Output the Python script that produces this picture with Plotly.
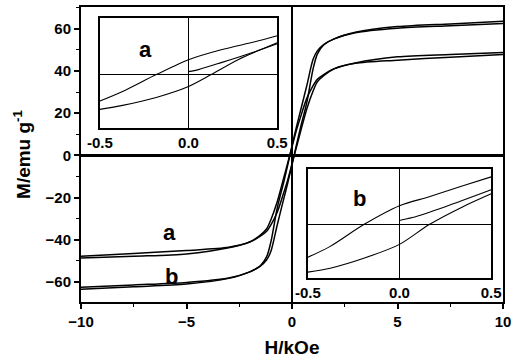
import plotly.graph_objects as go

# ---- main hysteresis data (H in kOe, M in emu/g) ----
H_main = [-10, -7.5, -5, -3, -2, -1.5, -1.2, -1, -0.7, -0.4, -0.2, 0,
          0.2, 0.4, 0.7, 1, 1.2, 1.5, 2, 3, 5, 7.5, 10]
# descending-field branches
M_a_dn = [-48.7, -47.8, -46.7, -43.8, -41, -37.8, -34.8, -30.5, -22, -11, -3.5, 4,
          11.5, 18, 27, 33, 36, 38.3, 41.1, 43.6, 45.1, 46.5, 47.8]
M_b_dn = [-63.5, -62.3, -61, -58.3, -55.2, -52.3, -48, -41, -25, -13, -4.5, 4.5,
          13, 21, 33, 45.5, 49.5, 52.5, 55.2, 58.1, 60.2, 61.4, 62.5]
# ascending-field branches (point symmetric to descending ones)
H_main_up = [-h for h in reversed(H_main)]
M_a_up = [-m for m in reversed(M_a_dn)]
M_b_up = [-m for m in reversed(M_b_dn)]

# ---- inset a (low-field loop) ----
Ha_upper = [-0.5, -0.372, -0.182, 0, 0.184, 0.374, 0.5]
Ma_upper = [-2.67, -1.7, 0, 1.5, 2.5, 3.3, 3.9]
Ha_lower = [-0.5, -0.372, -0.182, 0, 0.128, 0.279, 0.5]
Ma_lower = [-3.5, -3.1, -2.3, -1.2, 0, 1.5, 3.2]
Ha_virgin = [0, 0.056, 0.184, 0.374, 0.5]
Ma_virgin = [0.3, 0.5, 1.2, 2.3, 3.1]

# ---- inset b (low-field loop) ----
Hb_upper = [-0.5, -0.378, -0.195, 0, 0.162, 0.346, 0.5]
Mb_upper = [-3.3, -2.2, 0, 1.9, 2.8, 3.9, 4.8]
Hb_lower = [-0.5, -0.378, -0.195, 0, 0.162, 0.346, 0.5]
Mb_lower = [-4.8, -4.4, -3.4, -2.0, 0, 1.8, 3.1]
Hb_virgin = [0, 0.07, 0.25, 0.5]
Mb_virgin = [0.4, 0.7, 1.8, 3.5]

main_xticks = [-10, -5, 0, 5, 10]
main_yticks = [-60, -40, -20, 0, 20, 40, 60]
inset_xticks = [-0.5, 0, 0.5]
inset_xticktext = ["-0.5", "0.0", "0.5"]

FONT = "Liberation Sans"
line = dict(color="black", width=1.5, shape="spline", smoothing=0.8)
iline = dict(color="black", width=1.1, shape="spline", smoothing=0.8)

fig = go.Figure()

# main curves
for H, M in [(H_main, M_a_dn), (H_main_up, M_a_up), (H_main, M_b_dn), (H_main_up, M_b_up)]:
    fig.add_trace(go.Scatter(x=H, y=M, mode="lines", line=line, showlegend=False,
                             xaxis="x", yaxis="y"))

# inset a
for H, M in [(Ha_upper, Ma_upper), (Ha_lower, Ma_lower), (Ha_virgin, Ma_virgin)]:
    fig.add_trace(go.Scatter(x=H, y=M, mode="lines", line=iline,
                             showlegend=False, xaxis="x2", yaxis="y2"))
# inset b
for H, M in [(Hb_upper, Mb_upper), (Hb_lower, Mb_lower), (Hb_virgin, Mb_virgin)]:
    fig.add_trace(go.Scatter(x=H, y=M, mode="lines", line=iline,
                             showlegend=False, xaxis="x3", yaxis="y3"))

tickfont = dict(family=FONT, size=15, color="black", weight="bold")

fig.update_layout(
    width=518, height=364,
    margin=dict(l=81, r=11, t=5, b=62),
    paper_bgcolor="white", plot_bgcolor="white",
    xaxis=dict(range=[-10, 10], tickvals=main_xticks, ticks="outside", ticklen=5, tickwidth=1.5,
               tickcolor="black", showline=True, linecolor="black", linewidth=2, mirror=True,
               showgrid=False, zeroline=True, zerolinecolor="black", zerolinewidth=1.8,
               minor=dict(dtick=2.5, ticks="outside", ticklen=3, tickcolor="black", tickwidth=1.2),
               tickfont=tickfont,
               title=dict(text="H/kOe", font=dict(family=FONT, size=19, color="black", weight="bold"),
                          standoff=12)),
    yaxis=dict(range=[-69.5, 70.3], tickvals=main_yticks, ticks="outside", ticklen=5, tickwidth=1.5,
               tickcolor="black", showline=True, linecolor="black", linewidth=2, mirror=True,
               showgrid=False, zeroline=True, zerolinecolor="black", zerolinewidth=2.5,
               minor=dict(dtick=10, ticks="outside", ticklen=3, tickcolor="black", tickwidth=1.2),
               tickfont=tickfont,
               title=dict(text="M/emu g<sup>-1</sup>", font=dict(family=FONT, size=19, color="black", weight="bold"),
                          standoff=10)),
    xaxis2=dict(domain=[0.0446, 0.465], anchor="y2", range=[-0.5, 0.5], tickvals=inset_xticks,
                ticktext=inset_xticktext, ticks="", showline=True, linecolor="black", linewidth=1.5,
                mirror=True, showgrid=False, zeroline=True, zerolinecolor="black", zerolinewidth=1.3,
                tickfont=tickfont, ticklabelstandoff=0),
    yaxis2=dict(domain=[0.589, 0.963], anchor="x2", range=[-5.4, 5.7], showticklabels=False, ticks="",
                showline=True, linecolor="black", linewidth=1.5, mirror=True, showgrid=False,
                zeroline=True, zerolinecolor="black", zerolinewidth=1.3),
    xaxis3=dict(domain=[0.5376, 0.972], anchor="y3", range=[-0.5, 0.5], tickvals=inset_xticks,
                ticktext=inset_xticktext, ticks="", showline=True, linecolor="black", linewidth=1.5,
                mirror=True, showgrid=False, zeroline=True, zerolinecolor="black", zerolinewidth=1.3,
                tickfont=tickfont, ticklabelstandoff=0),
    yaxis3=dict(domain=[0.081, 0.451], anchor="x3", range=[-5.4, 5.6], showticklabels=False, ticks="",
                showline=True, linecolor="black", linewidth=1.5, mirror=True, showgrid=False,
                zeroline=True, zerolinecolor="black", zerolinewidth=1.3),
)

labfont = dict(family=FONT, size=22, color="black", weight="bold")
fig.add_annotation(x=-5.8, y=-36.5, xref="x", yref="y", text="a", showarrow=False, font=labfont)
fig.add_annotation(x=-5.7, y=-57.6, xref="x", yref="y", text="b", showarrow=False, font=labfont)
fig.add_annotation(x=-0.24, y=2.5, xref="x2", yref="y2", text="a", showarrow=False, font=labfont)
fig.add_annotation(x=-0.22, y=2.6, xref="x3", yref="y3", text="b", showarrow=False, font=labfont)

fig.write_html("out.html")
